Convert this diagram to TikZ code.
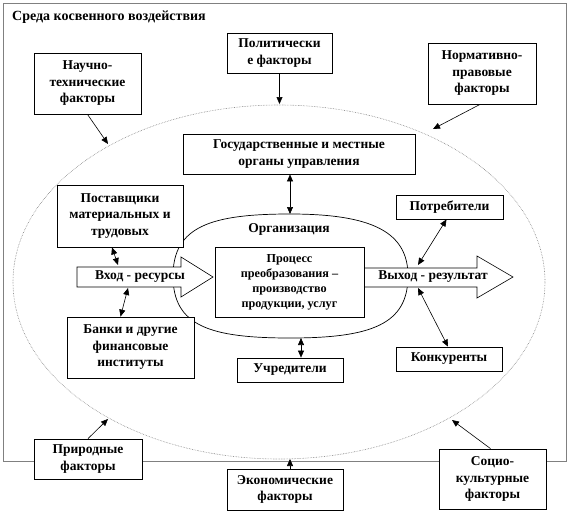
\documentclass[tikz,border=0pt]{standalone}
\usepackage{fontspec}
\setmainfont{Liberation Serif}
\usetikzlibrary{arrows.meta}
\begin{document}
\begin{tikzpicture}[x=1pt,y=-1pt,
  box/.style={draw=black, fill=white, line width=0.8pt, align=center, inner sep=0pt,
    font=\bfseries\fontsize{13.5}{16.5}\selectfont},
  smallbox/.style={box, font=\bfseries\fontsize{12.2}{15}\selectfont},
  lbl/.style={font=\bfseries\fontsize{13.5}{16.5}\selectfont, inner sep=0pt},
  arr/.style={-{Triangle[length=7pt,width=6pt]}, line width=0.6pt},
  dbl/.style={{Triangle[length=7pt,width=6pt]}-{Triangle[length=7pt,width=6pt]}, line width=0.6pt},
  blockarrow/.style={draw=black, fill=white, line width=0.6pt},
  frame/.style={draw=gray, line width=0.8pt},
  env/.style={draw=gray, densely dotted, line width=0.6pt}
]
\useasboundingbox (0,0) rectangle (570,519);
% outer frame
\draw[frame] (3,3) rectangle (566,461);
\node[lbl, anchor=west, font=\bfseries\fontsize{14}{16.5}\selectfont] (title) at (12,17) {Среда косвенного воздействия};
% environment ellipse
\draw[env] (279,282) ellipse [x radius=266, y radius=177];
% organization outline
\draw[line width=0.7pt] (173,276) .. controls (173,226) and (212,214) .. (290,214)
  .. controls (372,214) and (408,232) .. (408,276)
  .. controls (408,324) and (372,338) .. (290,338)
  .. controls (210,338) and (173,326) .. (173,276);
\node[lbl] (org) at (289,229) {Организация};
% block arrows
\draw[blockarrow] (77,267) -- (181,267) -- (181,257) -- (213,277) -- (181,297) -- (181,287) -- (77,287) -- cycle;
\node[lbl] (in) at (140,277) {Вход - ресурсы};
\draw[blockarrow] (364,268) -- (477,268) -- (477,256) -- (513,277) -- (477,298) -- (477,287) -- (364,287) -- cycle;
\node[lbl] (out) at (433,277) {Выход - результат};
% boxes
\node[box, minimum width=107, minimum height=61] (nt) at (87.5,83.5) {Научно-\\технические\\факторы};
\node[box, minimum width=105, minimum height=40] (pol) at (279.5,53) {Политически\\е факторы};
\node[box, minimum width=108, minimum height=61] (norm) at (482,73.5) {Нормативно-\\правовые\\факторы};
\node[box, minimum width=232, minimum height=40] (gov) at (299,154) {Государственные и местные\\органы управления};
\node[box, minimum width=126, minimum height=62] (sup) at (120,216) {Поставщики\\материальных и\\трудовых};
\node[box, minimum width=107, minimum height=24] (cons) at (449.5,207) {Потребители};
\node[smallbox, minimum width=149, minimum height=70] (proc) at (289.5,282) {Процесс\\преобразования –\\производство\\продукции, услуг};
\node[box, minimum width=127, minimum height=61] (bank) at (130.5,347.5) {Банки и другие\\финансовые\\институты};
\node[box, minimum width=106, minimum height=24] (found) at (290,370) {Учредители};
\node[box, minimum width=106, minimum height=24] (comp) at (449,359) {Конкуренты};
\node[box, minimum width=108, minimum height=40] (nat) at (88,459) {Природные\\факторы};
\node[box, minimum width=116, minimum height=41] (eco) at (285,489.5) {Экономические\\факторы};
\node[box, minimum width=107, minimum height=60] (soc) at (492.5,479) {Социо-\\культурные\\факторы};
% connector end points
\coordinate (e-nt) at (108,144);
\coordinate (e-pol) at (279.5,104);
\coordinate (e-norm) at (433,129);
\coordinate (e-nat) at (108,419);
\coordinate (e-eco) at (290,459);
\coordinate (e-soc) at (452,420);
\coordinate (orgtop) at (290,214);
\coordinate (orgbot) at (301,338);
\coordinate (in-top) at (118,265);
\coordinate (in-bot) at (128,288);
\coordinate (out-top) at (418,265);
\coordinate (out-bot) at (418,288);
% connectors
\draw[arr] (nt.south) -- (e-nt);
\draw[arr] (pol.south) -- (e-pol);
\draw[arr] ([xshift=-2pt]norm.south) -- (e-norm);
\draw[arr] (nat.north) -- (e-nat);
\draw[arr] (eco.north -| e-eco) -- (e-eco);
\draw[arr] ([xshift=-2pt]soc.north) -- (e-soc);
\draw[dbl] (gov.south -| orgtop) -- (orgtop);
\draw[dbl] ([xshift=-8pt]sup.south) -- (in-top);
\draw[dbl] (in-bot) -- ([xshift=-10pt]bank.north);
\draw[dbl] ([xshift=-3pt]cons.south) -- (out-top);
\draw[dbl] (out-bot) -- ([xshift=-1pt]comp.north);
\draw[dbl] (orgbot) -- (found.north -| orgbot);
\end{tikzpicture}
\end{document}
